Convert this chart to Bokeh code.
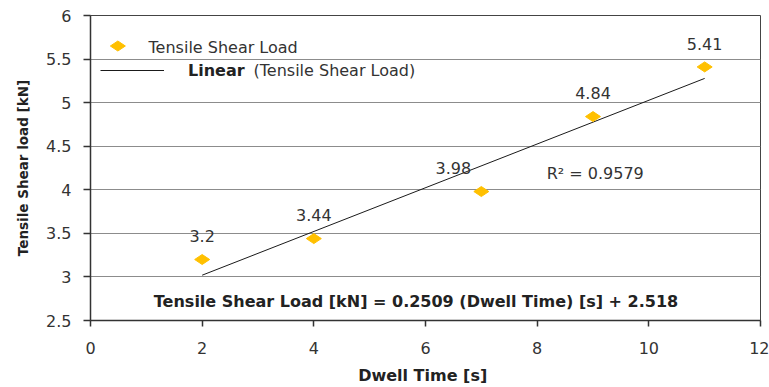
import numpy as np
from bokeh.plotting import figure
from bokeh.models import (ColumnDataSource, LabelSet, Label, Legend, LegendItem,
                          Range1d, FixedTicker, NumeralTickFormatter)
from bokeh.core.properties import value
from bokeh.embed import file_html
from bokeh.resources import INLINE

# ---- data ----
dwell_time = [2, 4, 7, 9, 11]
shear_load = [3.2, 3.44, 3.98, 4.84, 5.41]
x_ticks = [0, 2, 4, 6, 8, 10, 12]
y_ticks = [2.5, 3, 3.5, 4, 4.5, 5, 5.5, 6]
series_name = "Tensile Shear Load"
r2_text = "R\u00b2 = 0.9579"
equation_text = "Tensile Shear Load [kN] = 0.2509 (Dwell Time) [s] + 2.518"

# label offsets (styling)
label_dx = [0, 0, -28, 0, 0]
label_dy = [24, 24, 24, 24, 23]

FONT = "DejaVu Sans"
GOLD = "#FFC000"

p = figure(width=769, height=387, output_backend="svg", toolbar_location=None,
           x_range=Range1d(0, 12), y_range=Range1d(2.5, 6),
           min_border_left=90, min_border_right=9, min_border_top=15, min_border_bottom=66)
p.background_fill_color = "white"
p.border_fill_color = "white"
p.outline_line_color = "#444444"
p.outline_line_width = 1

# grid
p.xgrid.visible = False
p.ygrid.grid_line_color = "#8c8c8c"
p.ygrid.grid_line_width = 1
p.ygrid.ticker = FixedTicker(ticks=y_ticks)

# axes
for ax in (p.xaxis[0], p.yaxis[0]):
    ax.axis_line_color = "#333333"
    ax.axis_line_width = 1.5
    ax.major_tick_line_color = "#333333"
    ax.major_tick_line_width = 1.5
    ax.minor_tick_line_color = None
    ax.major_tick_in = 0
    ax.major_label_text_font = FONT
    ax.major_label_text_font_size = "16px"
    ax.major_label_text_color = "#333333"
    ax.axis_label_text_font = FONT
    ax.axis_label_text_font_style = "bold"
    ax.axis_label_text_color = "#222222"
    ax.formatter = NumeralTickFormatter(format="0.[0]")

p.xaxis[0].ticker = FixedTicker(ticks=x_ticks)
p.yaxis[0].ticker = FixedTicker(ticks=y_ticks)
p.xaxis[0].major_tick_out = 6
p.yaxis[0].major_tick_out = 7
p.xaxis[0].major_label_standoff = 15
p.yaxis[0].major_label_standoff = 12
p.xaxis[0].axis_label = "Dwell Time  [s]"
p.yaxis[0].axis_label = "Tensile Shear load [kN]"
p.xaxis[0].axis_label_text_font_size = "16px"
p.yaxis[0].axis_label_text_font_size = "13.5px"
p.xaxis[0].axis_label_standoff = 9
p.yaxis[0].axis_label_standoff = 12

# trend line (least squares from data)
slope, intercept = np.polyfit(dwell_time, shear_load, 1)
tx = [min(dwell_time), max(dwell_time)]
ty = [slope * v + intercept for v in tx]
trend = p.line(tx, ty, line_color="#1a1a1a", line_width=1)

# points
src = ColumnDataSource(dict(x=dwell_time, y=shear_load,
                            t=[str(v) for v in shear_load],
                            dx=label_dx, dy=label_dy))
pts = p.scatter("x", "y", source=src, marker="diamond", size=15, angle=np.pi / 2,
                fill_color=GOLD, line_color=GOLD)

p.add_layout(LabelSet(x="x", y="y", text="t", source=src, x_offset="dx", y_offset="dy",
                      text_align="center", text_baseline="middle",
                      text_font=value(FONT), text_font_size=value("16px"),
                      text_color=value("#333333")))

# legend key for the marker series (legend swatch, drawn rotated like the points)
key_src = ColumnDataSource(dict(x=[0.49], y=[5.65]))
p.scatter("x", "y", source=key_src, marker="diamond", size=15, angle=np.pi / 2,
          fill_color=GOLD, line_color=GOLD)
p.add_layout(Label(x=1.04, y=5.63, text=series_name, text_baseline="middle",
                   text_font=FONT, text_font_size="16px", text_color="#333333"))

# legend for the trend line
leg2 = Legend(items=[LegendItem(label="Linear", renderers=[trend])],
              location=(10, 240), glyph_width=64, glyph_height=20, label_height=20,
              label_standoff=24, padding=0, margin=0, spacing=0,
              background_fill_alpha=0, border_line_alpha=0,
              label_text_font=FONT, label_text_font_size="16px", label_text_font_style="bold",
              label_text_color="#222222")
p.add_layout(leg2)
p.add_layout(Label(x=2.92, y=5.37, text="(" + series_name + ")", text_baseline="middle",
                   text_font=FONT, text_font_size="16px", text_color="#333333"))

# R2 and equation
p.add_layout(Label(x=9.04, y=4.19, text=r2_text, text_align="center", text_baseline="middle",
                   text_font=FONT, text_font_size="16px", text_color="#333333"))
p.add_layout(Label(x=5.83, y=2.72, text=equation_text, text_align="center", text_baseline="middle",
                   text_font=FONT, text_font_size="16px", text_font_style="bold",
                   text_color="#222222"))

open("out.html", "w").write(file_html(p, INLINE))
